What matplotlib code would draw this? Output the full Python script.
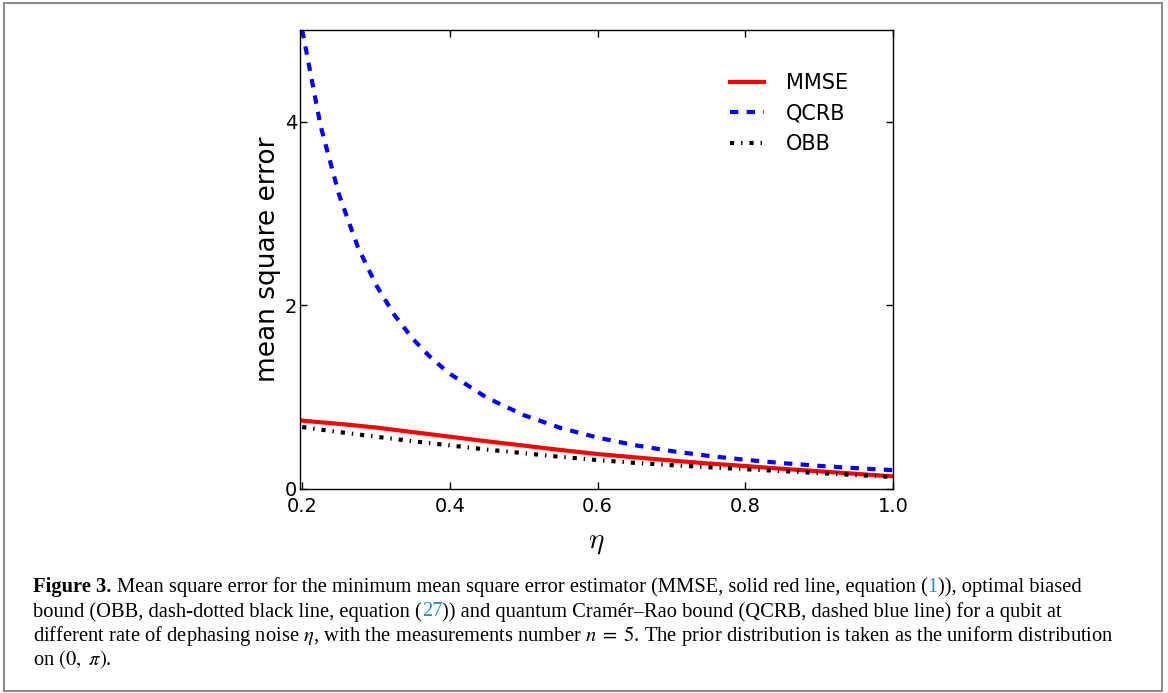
import numpy as np
import matplotlib
matplotlib.use("Agg")
import matplotlib.pyplot as plt
from matplotlib.patches import Rectangle

plt.rcParams['lines.scale_dashes'] = False
plt.rcParams['font.family'] = ['DejaVu Sans']

# values
eta = [0.20, 0.25, 0.30, 0.35, 0.40, 0.45, 0.50, 0.55, 0.60,
       0.65, 0.70, 0.75, 0.80, 0.85, 0.90, 0.95, 1.00]
mmse = [0.740, 0.705, 0.665, 0.615, 0.565, 0.515, 0.468, 0.420, 0.376,
        0.340, 0.305, 0.273, 0.245, 0.215, 0.188, 0.160, 0.132]
obb = [0.670, 0.615, 0.565, 0.515, 0.470, 0.425, 0.385, 0.345, 0.310,
       0.280, 0.255, 0.232, 0.210, 0.190, 0.168, 0.146, 0.125]

eta_q = [0.200, 0.225, 0.250, 0.275, 0.300, 0.325, 0.350, 0.375, 0.400,
         0.450, 0.500, 0.550, 0.600, 0.650, 0.700, 0.750, 0.800, 0.850,
         0.900, 0.950, 1.000]
qcrb = [5.00, 3.95, 3.20, 2.64, 2.22, 1.89, 1.63, 1.42, 1.25,
        0.99, 0.80, 0.66, 0.555, 0.473, 0.408, 0.356, 0.313, 0.277,
        0.247, 0.222, 0.200]

xticks = [0.2, 0.4, 0.6, 0.8, 1.0]
yticks = [0, 2, 4]

fig = plt.figure(figsize=(11.68, 6.93), dpi=100)
ax = fig.add_axes([300/1168, 1-488.5/693, 593/1168, 458.5/693])

ax.plot(eta, mmse, color='#ff0000', lw=3, label='MMSE')
ax.plot(eta_q, qcrb, color='#0000ff', lw=3, dashes=(6, 6), label='QCRB')
ax.plot(eta, obb, color='black', lw=3, dashes=(3, 5, 1, 5), label='OBB')

ax.set_xlim(0.197, 1.0)
ax.set_ylim(0, 5)
ax.set_xticks(xticks)
ax.set_yticks(yticks)
ax.set_xticklabels(['%.1f' % v for v in xticks])
ax.tick_params(direction='in', top=True, right=True, length=5, width=1,
               labelsize=14)
ax.tick_params(axis='x', pad=6)
ax.tick_params(axis='y', pad=2)
for s in ax.spines.values():
    s.set_linewidth(1)

ax.set_ylabel('mean square error', fontsize=19, labelpad=3)
ax.set_xlabel(r'$\eta$', fontsize=21, math_fontfamily='cm', labelpad=9)

ax.legend(loc='upper left', bbox_to_anchor=(0.693, 0.947), frameon=False,
          fontsize=15, handlelength=1.65, handletextpad=1.05, borderpad=0.4)

# caption
cap_fs = 14.8
serif = ['Liberation Serif', 'DejaVu Serif']
link = '#2c8cc4'
plain = dict(fontsize=cap_fs, family=serif, math_fontfamily='stix')
lines = [
    [("Figure 3.", dict(plain, weight='bold')),
     (" ", plain),
     ("Mean square error for the minimum mean square error estimator (MMSE, solid red line, equation (", plain),
     ("1", dict(plain, color=link)),
     (")), optimal biased", plain)],
    [("bound (OBB, dash-dotted black line, equation (", plain),
     ("27", dict(plain, color=link)),
     (")) and quantum Cram\u00e9r\u2013Rao bound (QCRB, dashed blue line) for a qubit at", plain)],
    [(r"different rate of dephasing noise $\eta$, with the measurements number $n\;=\;5$. The prior distribution is taken as the uniform distribution", plain)],
    [(r"on $(0,\ \pi)$.", plain)],
]
baselines = [592, 616.5, 641, 665.5]

r = fig.canvas.get_renderer()
for pieces, yb in zip(lines, baselines):
    x = 33
    for s, kw in pieces:
        if s == " ":
            x += 0.25 * cap_fs * 100 / 72
            continue
        t = fig.text(x / 1168, 1 - yb / 693, s, ha='left', va='baseline', **kw)
        x += t.get_window_extent(r).width

fig.patches.append(Rectangle((4/1168, 1-691/693), 1158/1168, 688/693,
                             transform=fig.transFigure, fill=False,
                             edgecolor='#8c8c8c', lw=1.5))

fig.savefig('out.png', dpi=100)
